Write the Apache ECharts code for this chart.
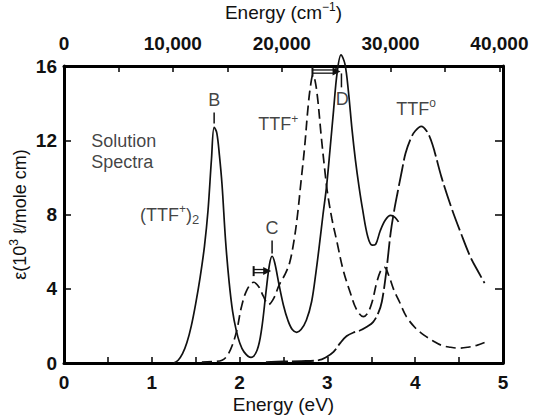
<!DOCTYPE html>
<html>
<head>
<meta charset="utf-8">
<script src="https://cdn.jsdelivr.net/npm/echarts@6.0.0/dist/echarts.min.js"></script>
<style>
html,body{margin:0;padding:0;background:#fff;}
#c{width:539px;height:416px;}
</style>
</head>
<body>
<div id="c"></div>
<script>
// ---- data (energy in eV, extinction coefficient in 10^3 l/mole cm) ----
const dimerEV  = [1.25,1.30,1.35,1.40,1.45,1.50,1.55,1.60,1.64,1.68,1.71,1.74,1.77,1.80,1.84,1.88,1.92,1.96,2.00,2.05,2.13,2.20,2.25,2.30,2.34,2.37,2.40,2.45,2.50,2.55,2.60,2.65,2.70,2.76,2.82,2.87,2.91,2.95,2.99,3.03,3.07,3.11,3.155,3.20,3.24,3.28,3.32,3.36,3.40,3.46,3.51,3.55,3.60,3.66,3.72,3.77,3.81];
const dimerEps = [0.0,0.15,0.5,1.1,2.0,3.2,4.6,6.3,8.2,11.0,12.7,12.4,11.2,9.6,6.6,4.4,2.8,1.8,1.1,0.6,0.3,0.7,1.8,3.8,5.3,5.75,5.4,4.2,3.1,2.3,1.8,1.65,1.8,2.3,3.3,4.9,6.4,8.0,9.5,11.5,13.6,15.6,16.6,16.1,14.6,12.6,10.9,9.5,8.3,6.8,6.35,6.4,7.1,7.7,7.95,7.85,7.6];

const cationEV  = [1.57,1.70,1.80,1.86,1.92,1.97,2.02,2.08,2.16,2.22,2.27,2.33,2.39,2.45,2.52,2.57,2.62,2.66,2.70,2.74,2.78,2.81,2.835,2.86,2.89,2.93,2.97,3.00,3.05,3.11,3.18,3.26,3.33,3.41,3.46,3.51,3.56,3.61,3.65,3.70,3.76,3.82,3.90,4.00,4.10,4.20,4.30,4.40,4.50,4.60,4.70,4.79];
const cationEps = [0.05,0.08,0.15,0.4,1.0,1.8,3.0,3.9,4.35,4.1,3.6,3.15,3.5,4.2,4.8,5.4,6.6,8.0,9.8,11.6,13.8,15.0,15.5,15.2,14.2,12.2,10.4,9.2,7.8,6.5,5.0,3.8,2.9,2.5,2.7,3.3,4.3,5.0,5.15,4.7,3.9,3.3,2.5,1.9,1.5,1.2,0.95,0.85,0.8,0.85,0.95,1.1];

const neutralEV  = [2.30,2.50,2.70,2.90,2.98,3.07,3.15,3.22,3.30,3.37,3.45,3.52,3.58,3.62,3.67,3.72,3.76,3.80,3.85,3.89,3.95,4.00,4.07,4.13,4.18,4.22,4.30,4.41,4.52,4.63,4.72,4.79];
const neutralEps = [0.05,0.08,0.1,0.15,0.3,0.6,1.1,1.45,1.65,1.75,1.95,2.2,2.7,3.3,4.9,7.0,8.2,9.2,10.4,11.3,12.1,12.5,12.75,12.5,12.0,11.4,10.0,8.4,7.0,5.7,4.9,4.3];

// tick labels
const evTicks = [0,1,2,3,4,5];
const cmTicks = [0,10000,20000,30000,40000];
const epsTicks = [0,4,8,12,16];
const EV_TO_CM = 8065.54;

// annotations (data coordinates)
const noteText  = ['B','C','D','TTF{sup|+}','TTF{sup|o}','(TTF{sup|+}){sub|2}','Solution','Spectra'];
const noteEV    = [1.71, 2.37, 3.17, 2.44, 4.01, 1.54, 0.31, 0.31];
const noteEps   = [14.15, 7.25, 14.2, 12.85, 13.7, 8.0, 11.95, 10.85];
const noteAlign = ['center','center','center','center','center','right','left','left'];

const pointerEV  = [1.71, 2.37, 3.16];
const pointerLo  = [12.9, 5.9, 14.85];
const pointerHi  = [13.5, 6.6, 15.6];

const arrowFrom = [2.83, 2.16];
const arrowTo   = [3.15, 2.36];
const arrowEps  = [15.7, 4.95];

const FONT = '"Liberation Sans", Arial, Helvetica, sans-serif';
const INK = '#111';
const pairs = (xs, ys) => xs.map((x, i) => [x, ys[i]]);

const supRich = {
  sup: {fontFamily: FONT, fontSize: 12, color: INK, padding: [0, 0, 11, 0]},
  sub: {fontFamily: FONT, fontSize: 13, color: INK, padding: [10, 0, 0, 0]}
};

const chart = echarts.init(document.getElementById('c'), null, {renderer: 'svg'});

const axisCommon = {
  axisLine: {show: true, onZero: false, lineStyle: {color: '#000', width: 3}},
  splitLine: {show: false},
  nameMoveOverlap: false
};

const option = {
  animation: false,
  backgroundColor: '#fff',
  grid: {left: 64, right: 36, top: 66, bottom: 53, containLabel: false, outerBoundsMode: 'none'},
  xAxis: [
    Object.assign({}, axisCommon, {
      type: 'value', position: 'bottom', min: 0, max: 5, interval: 0.5,
      axisTick: {show: true, inside: true, length: 6, lineStyle: {color: '#000', width: 1.5}},
      axisLabel: {
        formatter: v => evTicks.includes(v) ? String(v) : '',
        fontFamily: FONT, fontSize: 19, fontWeight: 'bold', color: INK, margin: 10
      },
      name: 'Energy (eV)', nameLocation: 'middle', nameGap: 32,
      nameTextStyle: {fontFamily: FONT, fontSize: 19, color: INK}
    }),
    Object.assign({}, axisCommon, {
      type: 'value', position: 'top', min: 0, max: 5 * EV_TO_CM, interval: 5000,
      axisTick: {show: true, inside: true, length: 6, lineStyle: {color: '#000', width: 1.5}},
      axisLabel: {
        formatter: v => cmTicks.includes(v) ? v.toLocaleString('en-US') : '',
        fontFamily: FONT, fontSize: 19, fontWeight: 'bold', color: INK, margin: 13
      },
      name: 'Energy (cm{sup|−1})', nameLocation: 'middle', nameGap: 42,
      nameTextStyle: {fontFamily: FONT, fontSize: 19, color: INK, rich: supRich}
    })
  ],
  yAxis: [
    Object.assign({}, axisCommon, {
      type: 'value', position: 'left', min: 0, max: 16, interval: 4,
      axisTick: {show: true, inside: true, length: 7, lineStyle: {color: '#000', width: 1.5}},
      axisLabel: {
        formatter: v => epsTicks.includes(v) ? String(v) : '',
        fontFamily: FONT, fontSize: 19, fontWeight: 'bold', color: INK, margin: 7
      },
      name: 'ε(10{sup|3} ℓ/mole cm)', nameLocation: 'middle', nameGap: 33, nameRotate: 90,
      nameTextStyle: {fontFamily: FONT, fontSize: 18, color: INK, rich: supRich}
    }),
    Object.assign({}, axisCommon, {
      type: 'value', position: 'right', min: 0, max: 16, interval: 4,
      axisTick: {show: true, inside: true, length: 8, lineStyle: {color: '#000', width: 1.5}},
      axisLabel: {show: false}
    })
  ],
  series: [
    {
      name: '(TTF+)2', type: 'line', xAxisIndex: 0, yAxisIndex: 0,
      data: pairs(dimerEV, dimerEps), symbol: 'none', smooth: 0.35, clip: false,
      lineStyle: {color: INK, width: 1.7}
    },
    {
      name: 'TTF+', type: 'line', xAxisIndex: 0, yAxisIndex: 0,
      data: pairs(cationEV, cationEps), symbol: 'none', smooth: 0.35, clip: false,
      lineStyle: {color: INK, width: 1.7, type: [10, 5]}
    },
    {
      name: 'TTF0', type: 'line', xAxisIndex: 0, yAxisIndex: 0,
      data: pairs(neutralEV, neutralEps), symbol: 'none', smooth: 0.35, clip: false,
      lineStyle: {color: INK, width: 1.8, type: [22, 4]}
    },
    {
      name: 'notes', type: 'scatter', xAxisIndex: 0, yAxisIndex: 0,
      symbolSize: 1, itemStyle: {color: 'rgba(0,0,0,0)'}, silent: true,
      data: noteText.map((t, i) => ({
        value: [noteEV[i], noteEps[i]],
        label: {
          show: true, position: 'inside', formatter: t, align: noteAlign[i], verticalAlign: 'middle',
          fontFamily: FONT, fontSize: 18, color: INK, rich: supRich
        }
      }))
    }
  ]
};
chart.setOption(option);

// pointer ticks and arrows, positioned through the chart's own scales
const px = (x, y) => chart.convertToPixel({xAxisIndex: 0, yAxisIndex: 0}, [x, y]);
const g = [];
pointerEV.forEach((x, i) => {
  const a = px(x, pointerLo[i]), b = px(x, pointerHi[i]);
  g.push({type: 'line', shape: {x1: a[0], y1: a[1], x2: b[0], y2: b[1]}, style: {stroke: INK, lineWidth: 1.5}, z: 10});
});
arrowFrom.forEach((x, i) => {
  const a = px(x, arrowEps[i]), b = px(arrowTo[i], arrowEps[i]);
  const y = a[1];
  g.push({type: 'line', shape: {x1: a[0], y1: y - 5, x2: a[0], y2: y + 5}, style: {stroke: INK, lineWidth: 2}, z: 10});
  g.push({type: 'line', shape: {x1: a[0], y1: y - 1.6, x2: b[0] - 6, y2: y - 1.6}, style: {stroke: INK, lineWidth: 1.3}, z: 10});
  g.push({type: 'line', shape: {x1: a[0], y1: y + 1.6, x2: b[0] - 6, y2: y + 1.6}, style: {stroke: INK, lineWidth: 1.3}, z: 10});
  g.push({type: 'polygon', shape: {points: [[b[0] - 8, y - 4], [b[0], y], [b[0] - 8, y + 4]]}, style: {fill: INK}, z: 10});
});
chart.setOption({graphic: g});
</script>
</body>
</html>
